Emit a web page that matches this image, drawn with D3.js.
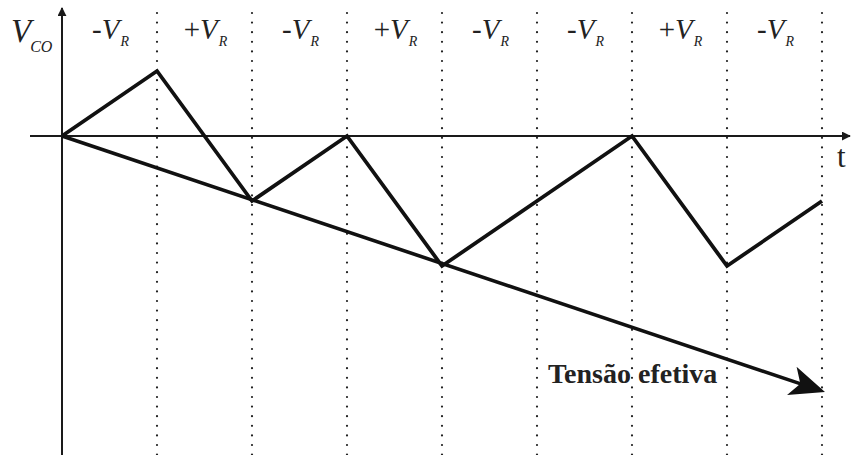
<!DOCTYPE html>
<html>
<head>
<meta charset="utf-8">
<script src="https://cdn.jsdelivr.net/npm/d3@7"></script>
<style>
  body { margin: 0; background: #fff; }
  svg { display: block; }
</style>
</head>
<body>
<svg id="chart" width="851" height="455"></svg>
<script>
// intervals and the sign of V_R in each one
var intervalSigns = ["-", "+", "-", "+", "-", "-", "+", "-"];
// capacitor voltage at each interval boundary (in units of V_R)
var zigzagT = [0, 1, 2, 3, 4, 5, 6, 7, 8];
var zigzagV = [0, 1, -1, 0, -2, -1, 0, -2, -1];
// effective voltage trend, start and end
var trendT = [0, 8];
var trendV = [0, -4];

var w = 851, h = 455;
var svg = d3.select("#chart");

var xScale = d3.scaleLinear().domain([0, 8]).range([62, 822]);
var yScale = d3.scaleLinear().domain([1, -4]).range([71, 396]);

var defs = svg.append("defs");
defs.append("marker")
    .attr("id", "axisArrow")
    .attr("viewBox", "0 0 10 10")
    .attr("refX", 9).attr("refY", 5)
    .attr("markerWidth", 9).attr("markerHeight", 9)
    .attr("markerUnits", "userSpaceOnUse")
    .attr("orient", "auto")
    .append("path")
    .attr("d", "M0,0 L10,5 L0,10 Z")
    .style("fill", "#1a1a1a");

// dotted dividers
svg.selectAll(".divider")
    .data(d3.range(1, 9))
    .enter().append("line")
    .attr("class", "divider")
    .attr("x1", d => xScale(d)).attr("x2", d => xScale(d))
    .attr("y1", 13).attr("y2", h)
    .style("stroke", "#222")
    .style("stroke-width", 2.2)
    .style("stroke-dasharray", "0 9.6")
    .style("stroke-linecap", "round");

// axes
svg.append("line")
    .attr("x1", 30).attr("x2", 850)
    .attr("y1", yScale(0)).attr("y2", yScale(0))
    .style("stroke", "#1a1a1a").style("stroke-width", 2)
    .attr("marker-end", "url(#axisArrow)");

svg.append("line")
    .attr("x1", xScale(0)).attr("x2", xScale(0))
    .attr("y1", h).attr("y2", 8)
    .style("stroke", "#1a1a1a").style("stroke-width", 2)
    .attr("marker-end", "url(#axisArrow)");

// trend line with big arrow head
var tip = [xScale(trendT[1]) + 3, yScale(trendV[1]) - 4];
var start = [xScale(trendT[0]), yScale(trendV[0])];
var ang = Math.atan2(tip[1] - start[1], tip[0] - start[0]);
var headLen = 35, headW = 15;
var ux = Math.cos(ang), uy = Math.sin(ang);
var px = -uy, py = ux;
var base = [tip[0] - headLen * ux, tip[1] - headLen * uy];
var notch = [tip[0] - (headLen - 9) * ux, tip[1] - (headLen - 9) * uy];

svg.append("line")
    .attr("x1", start[0]).attr("y1", start[1])
    .attr("x2", notch[0] + 2 * ux).attr("y2", notch[1] + 2 * uy)
    .style("stroke", "#111").style("stroke-width", 3.6);

svg.append("path")
    .attr("d", "M" + tip + " L" + [base[0] + px * headW, base[1] + py * headW] +
        " L" + notch + " L" + [base[0] - px * headW, base[1] - py * headW] + " Z")
    .style("fill", "#111");

// zigzag
var zigzag = zigzagT.map((t, i) => ({t: t, v: zigzagV[i]}));
svg.append("path")
    .datum(zigzag)
    .attr("d", d3.line().x(d => xScale(d.t)).y(d => yScale(d.v)))
    .style("fill", "none")
    .style("stroke", "#111")
    .style("stroke-width", 3.8)
    .style("stroke-linejoin", "miter");

// labels
var serif = "'Liberation Serif', 'Times New Roman', serif";

var vco = svg.append("text")
    .attr("x", 11).attr("y", 42)
    .style("font-family", serif).style("fill", "#222");
vco.append("tspan").style("font-style", "italic").style("font-size", "33px").text("V");
vco.append("tspan").attr("dy", 10).attr("dx", -1).style("font-style", "italic").style("font-size", "16px").text("CO");

svg.selectAll(".vr")
    .data(intervalSigns)
    .enter().append("text")
    .attr("class", "vr")
    .attr("x", (d, i) => xScale(i + 0.5) + 1)
    .attr("y", 39)
    .attr("text-anchor", "middle")
    .style("font-family", serif).style("fill", "#222")
    .each(function(d) {
        var t = d3.select(this);
        t.append("tspan").style("font-size", "29px").text(d);
        t.append("tspan").style("font-style", "italic").style("font-size", "29px").text("V");
        t.append("tspan").attr("dy", 7).attr("dx", 1).style("font-style", "italic").style("font-size", "14px").text("R");
    });

svg.append("text")
    .attr("x", 837).attr("y", 167)
    .style("font-family", serif).style("font-size", "31px").style("fill", "#222")
    .text("t");

svg.append("text")
    .attr("x", 548).attr("y", 383)
    .style("font-family", serif).style("font-size", "28px")
    .style("font-weight", "bold").style("fill", "#222")
    .text("Tensão efetiva");
</script>
</body>
</html>
